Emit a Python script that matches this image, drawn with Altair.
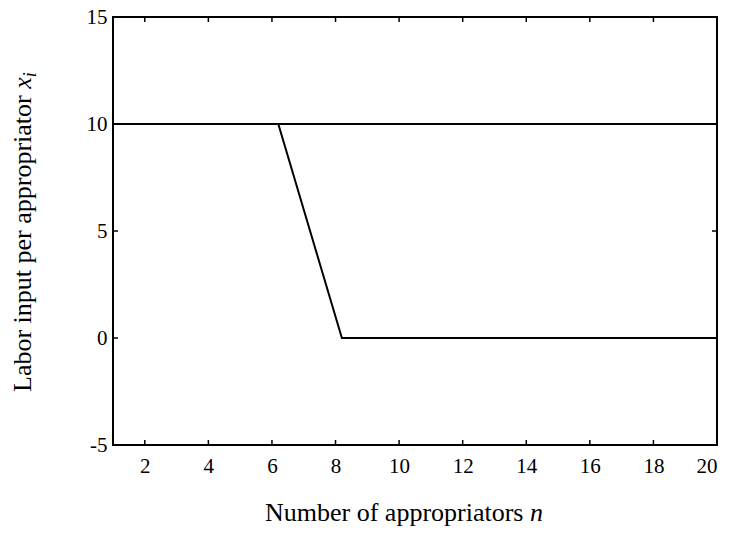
import altair as alt
import pandas as pd

# ---- data ----
n_flat = [1, 20]
x_flat = [10, 10]
n_drop = [1, 6.2, 8.2, 20]
x_drop = [10, 10, 0, 0]
x_ticks = [2, 4, 6, 8, 10, 12, 14, 16, 18, 20]
y_ticks = [-5, 0, 5, 10, 15]
x_domain = [1, 20]
y_domain = [-5, 15]

W, H = 604, 428
FONT = "Liberation Serif"
TICK_FS = 21
TITLE_FS = 26

lines = pd.DataFrame({
    "n": n_flat + n_drop,
    "x": x_flat + x_drop,
    "series": ["flat"] * len(n_flat) + ["drop"] * len(n_drop),
    "order": list(range(len(n_flat))) + list(range(len(n_drop))),
})
xt = pd.DataFrame({"n": x_ticks})
yt = pd.DataFrame({"x": y_ticks})
one = pd.DataFrame({"k": [0]})

xscale = alt.Scale(domain=x_domain, nice=False, zero=False)
yscale = alt.Scale(domain=y_domain, nice=False, zero=False)

xaxis = alt.Axis(values=x_ticks, labelExpr="'' + datum.value", ticks=False, domain=False, grid=False,
                 title=None, labelFont=FONT, labelFontSize=TICK_FS, labelColor="black",
                 labelPadding=10)
yaxis = alt.Axis(values=y_ticks, labelExpr="'' + datum.value", ticks=False, domain=False, grid=False,
                 title=None, labelFont=FONT, labelFontSize=TICK_FS, labelColor="black",
                 labelPadding=6)

line = alt.Chart(lines).mark_line(color="black", strokeWidth=2).encode(
    x=alt.X("n:Q", scale=xscale, axis=xaxis),
    y=alt.Y("x:Q", scale=yscale, axis=yaxis),
    detail="series:N",
    order="order:Q",
)

tick_len = 5
bottom_ticks = alt.Chart(xt).mark_rule(color="black", strokeWidth=1.5).encode(
    x=alt.X("n:Q", scale=xscale, axis=xaxis), y=alt.value(H), y2=alt.value(H - tick_len))
top_ticks = alt.Chart(xt).mark_rule(color="black", strokeWidth=1.5).encode(
    x=alt.X("n:Q", scale=xscale, axis=xaxis), y=alt.value(0), y2=alt.value(tick_len))
left_ticks = alt.Chart(yt).mark_rule(color="black", strokeWidth=1.5).encode(
    y=alt.Y("x:Q", scale=yscale, axis=yaxis), x=alt.value(0), x2=alt.value(tick_len))
right_ticks = alt.Chart(yt).mark_rule(color="black", strokeWidth=1.5).encode(
    y=alt.Y("x:Q", scale=yscale, axis=yaxis), x=alt.value(W), x2=alt.value(W - tick_len))

# x title: "Number of appropriators n" (n italic)
xt_main = "Number of appropriators"
xt_start = 152
xt_base = 504
xtitle1 = alt.Chart(one).mark_text(font=FONT, fontSize=TITLE_FS, align="left", baseline="alphabetic",
                                   color="black").encode(
    x=alt.value(xt_start), y=alt.value(xt_base), text=alt.value(xt_main))
xtitle2 = alt.Chart(one).mark_text(font=FONT, fontSize=TITLE_FS, fontStyle="italic", align="left",
                                   baseline="alphabetic", color="black").encode(
    x=alt.value(xt_start + 10.192 * TITLE_FS), y=alt.value(xt_base), text=alt.value("n"))

# y title: "Labor input per appropriator x_i"
yt_main = "Labor input per appropriator"
yt_start = 375
yt_base = -82
ytitle1 = alt.Chart(one).mark_text(font=FONT, fontSize=TITLE_FS, align="left", baseline="alphabetic",
                                   angle=270, color="black").encode(
    x=alt.value(yt_base), y=alt.value(yt_start), text=alt.value(yt_main))
ytitle2 = alt.Chart(one).mark_text(font=FONT, fontSize=TITLE_FS, fontStyle="italic", align="left",
                                   baseline="alphabetic", angle=270, color="black").encode(
    x=alt.value(yt_base), y=alt.value(yt_start - 11.664 * TITLE_FS), text=alt.value("x"))
ytitle3 = alt.Chart(one).mark_text(font=FONT, fontSize=TITLE_FS * 0.7, fontStyle="italic", align="left",
                                   baseline="alphabetic", angle=270, color="black").encode(
    x=alt.value(yt_base + 5), y=alt.value(yt_start - 12.108 * TITLE_FS), text=alt.value("i"))

chart = alt.layer(
    line, bottom_ticks, top_ticks, left_ticks, right_ticks,
    xtitle1, xtitle2, ytitle1, ytitle2, ytitle3,
).properties(
    width=W, height=H,
    autosize=alt.AutoSizeParams(type="none"),
    padding={"left": 105, "top": 9, "right": 8, "bottom": 82},
).configure(
    background="white",
    view=alt.ViewConfig(stroke="black", strokeWidth=2),
)

chart.save("out.html", embed_options={"renderer": "svg", "actions": False})
